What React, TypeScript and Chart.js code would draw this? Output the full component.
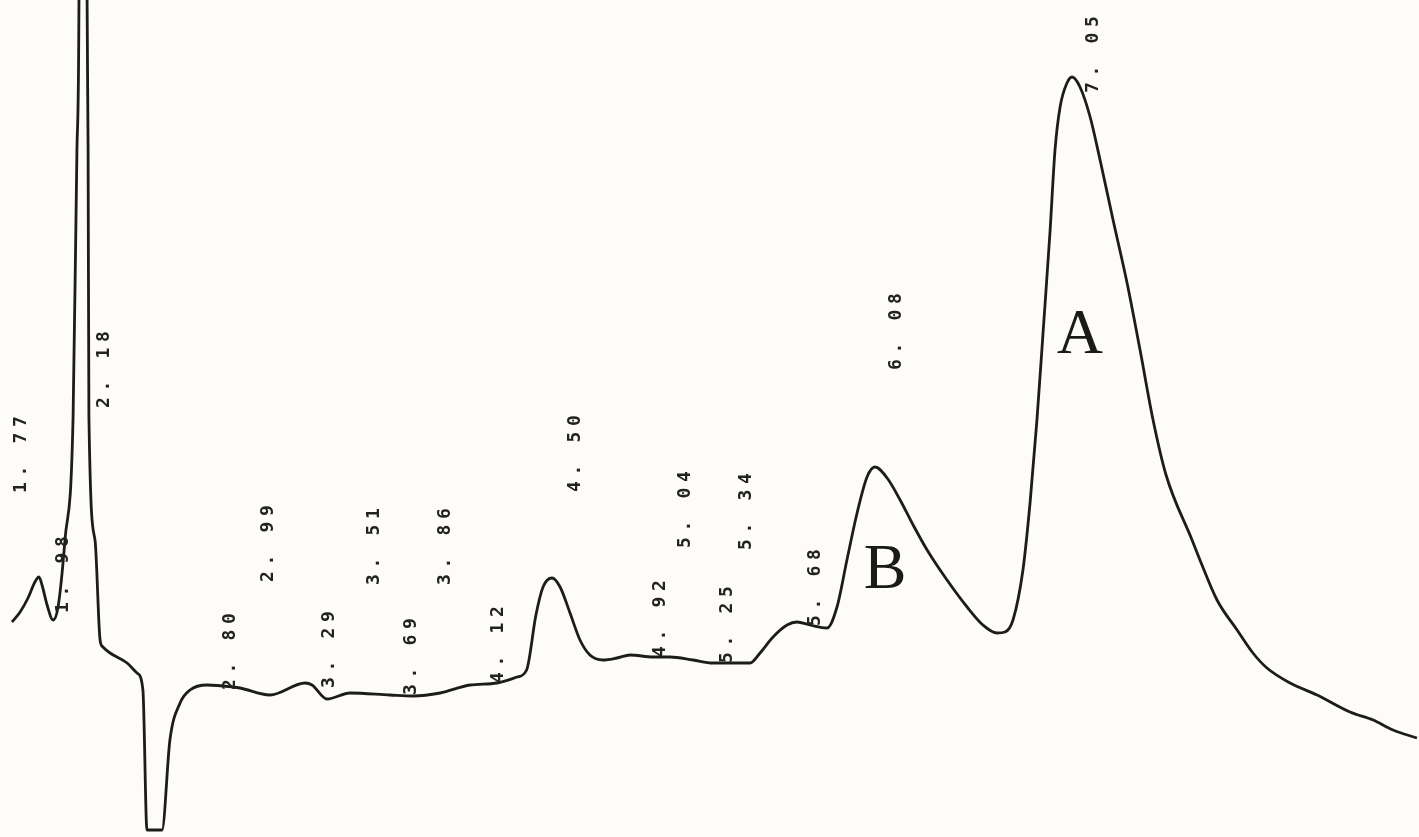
import React, { useEffect, useRef } from "react";
import { Chart, registerables } from "chart.js";

Chart.register(...registerables);

// Retention time (min) of each traced point of the trace
const times = [
  1.835, 1.875, 1.914, 1.948, 1.968, 1.983, 2.008, 2.037, 2.062, 2.096, 2.136, 2.155, 2.165, 2.185,
  2.205, 2.21, 2.214, 2.244, 2.269, 2.283, 2.318, 2.402, 2.451, 2.48, 2.5, 2.574, 2.613, 2.663,
  2.712, 2.796, 2.924, 2.958, 3.106, 3.279, 3.313, 3.387, 3.5, 3.697, 3.811, 3.944, 4.091, 4.224,
  4.323, 4.37, 4.416, 4.451, 4.495, 4.535, 4.584, 4.633, 4.682, 4.747, 4.815, 4.88, 4.993, 5.077,
  5.19, 5.288, 5.471, 5.52, 5.584, 5.653, 5.702, 5.766, 5.85, 5.899, 5.948, 5.998, 6.047, 6.086,
  6.146, 6.21, 6.274, 6.343, 6.441, 6.54, 6.618, 6.687, 6.727, 6.766, 6.815, 6.85, 6.884, 6.914,
  6.948, 6.973, 6.998, 7.032, 7.057, 7.096, 7.146, 7.195, 7.259, 7.328, 7.392, 7.456, 7.52, 7.648,
  7.687, 7.771, 7.87, 7.948, 8.017, 8.131, 8.264, 8.426, 8.54, 8.638, 8.756,
];

// Detector signal (arbitrary units) at each time above
const signal = [
  13.6, 15.6, 18.4, 21.6, 22.6, 21.0, 17.0, 14.0, 16.6, 30.0, 54.6, 108, 138, 500,
  138, 108, 54.6, 30, 10, 8.6, 7.4, 5.4, 3.4, 0, -28, -28, -10, -2.6,
  0, 1.0, 0.6, 0.4, -1.0, 1.4, 1.0, -1.8, -0.6, -1.0, -1.2, -0.6, 1.0, 1.4,
  2.6, 4.0, 15.0, 20.6, 22.4, 20.6, 15.4, 10, 7, 6, 6.4, 7, 6.6, 6.6,
  6, 5.4, 5.4, 7.4, 10.6, 13, 13.6, 13, 12.4, 16.6, 26, 35.4, 42.6, 44.6,
  42.4, 38, 33, 28, 22, 16.6, 13, 11.4, 11.6, 14, 24, 37.4, 54, 71.4,
  91.4, 108, 116.6, 121.4, 122.6, 120.6, 114.6, 106, 94, 81.4, 68, 54, 43, 30,
  26, 18, 12, 7.4, 4.4, 1.4, -1, -4.4, -6, -8, -9.6,
];

// Printed retention-time labels: text, peak time, signal level where the text starts
const labelTexts = [
  "1. 77", "1. 98", "2. 18", "2. 80", "2. 99", "3. 29", "3. 51", "3. 69", "3. 86",
  "4. 12", "4. 50", "4. 92", "5. 04", "5. 25", "5. 34", "5. 68", "6. 08", "7. 05",
];
const labelTimes = [
  1.77, 1.98, 2.18, 2.8, 2.99, 3.29, 3.51, 3.69, 3.86,
  4.12, 4.5, 4.92, 5.04, 5.25, 5.34, 5.68, 6.08, 7.05,
];
const labelLevels = [
  39.4, 15.4, 56.4, 0, 21.6, 0.4, 21, -1, 21,
  1.4, 39.6, 6.6, 28.4, 5.4, 28, 12.8, 64, 119.4,
];

// Peak annotations
const peakNames = ["A", "B"];
const peakNameTimes = [7.096, 6.136];
const peakNameLevels = [67.4, 20.4];

const labelPlugin = {
  id: "peakLabels",
  afterDatasetsDraw(chart: any) {
    const ctx = chart.ctx as CanvasRenderingContext2D;
    const xs = chart.scales.x;
    const ys = chart.scales.y;
    ctx.save();
    ctx.fillStyle = "#222222";
    ctx.font = "bold 18px 'DejaVu Sans Mono', monospace";
    ctx.textBaseline = "alphabetic";
    ctx.textAlign = "left";
    labelTexts.forEach((txt, i) => {
      const px = xs.getPixelForValue(labelTimes[i]) + 27;
      const py = ys.getPixelForValue(labelLevels[i]);
      ctx.save();
      ctx.translate(px, py);
      ctx.rotate(-Math.PI / 2);
      for (let c = 0; c < txt.length; c++) {
        ctx.fillText(txt[c], c * 16.5, 0);
      }
      ctx.restore();
    });
    ctx.fillStyle = "#1a1a1a";
    ctx.font = "64px 'Liberation Serif', 'Times New Roman', serif";
    ctx.textAlign = "center";
    peakNames.forEach((n, i) => {
      ctx.fillText(n, xs.getPixelForValue(peakNameTimes[i]), ys.getPixelForValue(peakNameLevels[i]));
    });
    ctx.restore();
  },
};

const bgPlugin = {
  id: "bg",
  beforeDraw(chart: any) {
    const ctx = chart.ctx as CanvasRenderingContext2D;
    ctx.save();
    ctx.fillStyle = "#fdfcf9";
    ctx.fillRect(0, 0, chart.width, chart.height);
    ctx.restore();
  },
};

export default function App() {
  const ref = useRef<HTMLCanvasElement | null>(null);
  useEffect(() => {
    document.body.style.margin = "0";
    if (!ref.current) return;
    const chart = new Chart(ref.current, {
      type: "line",
      data: {
        datasets: [
          {
            data: times.map((t, i) => ({ x: t, y: signal[i] })),
            borderColor: "#1c1c1c",
            borderWidth: 2.8,
            pointRadius: 0,
            cubicInterpolationMode: "monotone",
            fill: false,
          },
        ],
      },
      options: {
        animation: false,
        responsive: true,
        maintainAspectRatio: false,
        layout: { padding: 0 },
        plugins: { legend: { display: false }, tooltip: { enabled: false } },
        scales: {
          x: { type: "linear", min: 1.776, max: 8.766, display: false },
          y: { type: "linear", min: -29.4, max: 138, display: false },
        },
      },
      plugins: [bgPlugin, labelPlugin],
    });
    return () => chart.destroy();
  }, []);
  return (
    <div style={{ position: "absolute", left: 0, top: 0, width: 1419, height: 837 }}>
      <canvas ref={ref} />
    </div>
  );
}
